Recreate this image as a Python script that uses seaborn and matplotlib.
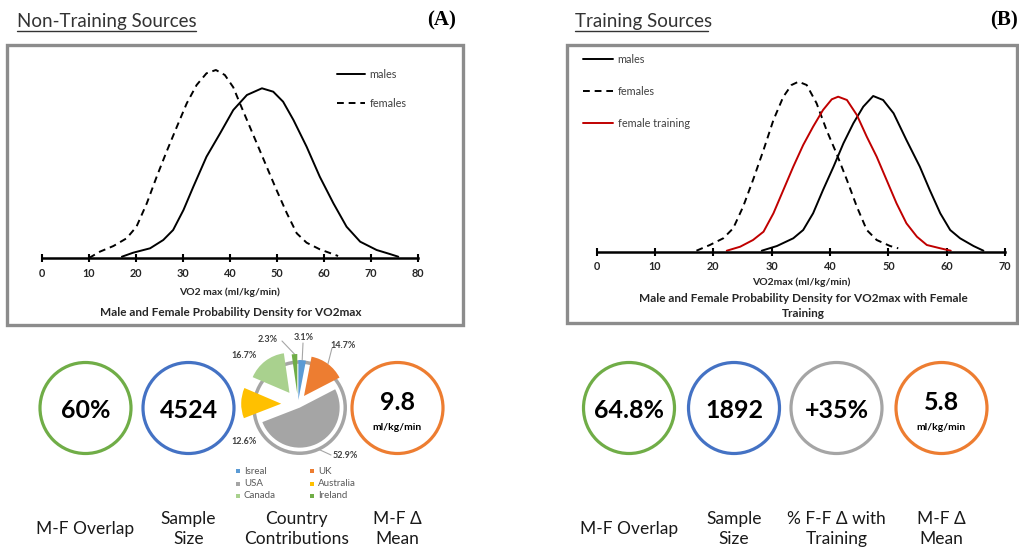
import numpy as np
import pandas as pd
import matplotlib
matplotlib.use("Agg")
import matplotlib.pyplot as plt
import seaborn as sns
from matplotlib.patches import Circle, Rectangle

# ---------------- data ----------------
# Panel A (non-training sources): relative probability density vs VO2max
a_male_x = [17.0, 19.4, 23.0, 25.8, 27.9, 30.1, 32.2, 35.0, 37.9, 40.7, 43.6, 46.8, 49.2,
            51.3, 53.5, 56.3, 59.1, 62.0, 64.8, 67.7, 71.2, 74.0, 75.8]
a_male_y = [1.3, 5.3, 9.7, 18.0, 28.0, 48.0, 71.3, 101.3, 124.7, 148.0, 163.0, 169.7, 166.3,
            156.3, 138.0, 111.3, 81.3, 54.7, 31.3, 16.3, 8.0, 4.0, 1.3]
a_female_x = [10.0, 12.3, 15.2, 18.0, 20.1, 22.3, 24.4, 26.5, 28.7, 30.8, 32.9, 35.0, 37.0,
              38.9, 40.7, 42.1, 43.9, 45.7, 47.8, 49.9, 52.1, 54.2, 56.3, 59.1, 63.0]
a_female_y = [0.0, 6.3, 12.0, 19.7, 31.3, 54.7, 81.3, 106.3, 131.3, 154.7, 173.0, 184.7, 188.0,
              183.0, 170.7, 154.7, 134.7, 114.7, 91.3, 68.0, 44.7, 24.7, 15.3, 8.7, 2.0]

# Panel B (training sources)
b_male_x = [28.3, 30.9, 33.7, 35.4, 37.1, 38.8, 40.6, 42.3, 44.0, 45.7, 47.4, 49.1, 50.9,
            53.1, 55.4, 57.1, 58.9, 60.6, 62.3, 64.6, 66.3]
b_male_y = [1.0, 5.7, 13.4, 21.7, 38.4, 61.7, 85.0, 108.4, 128.4, 145.0, 155.7, 151.7, 138.4,
            111.7, 85.0, 61.7, 38.4, 21.7, 13.4, 5.7, 1.0]
b_female_x = [17.1, 19.4, 21.7, 23.4, 25.1, 26.8, 28.6, 30.3, 32.0, 33.4, 34.6, 36.0, 37.7,
              39.4, 41.1, 42.9, 44.6, 46.3, 48.0, 50.3, 51.7]
b_female_y = [1.0, 6.7, 13.4, 23.4, 45.0, 71.7, 101.7, 131.7, 155.0, 166.7, 170.0, 166.7, 148.4,
              121.7, 98.4, 71.7, 45.0, 21.7, 11.7, 5.7, 3.4]
b_ftrain_x = [22.3, 24.6, 26.8, 28.6, 30.3, 32.0, 33.7, 35.4, 37.1, 38.8, 40.3, 41.4, 42.9,
              44.6, 46.3, 48.0, 49.7, 51.4, 53.1, 54.9, 56.6, 58.9, 60.7]
b_ftrain_y = [1.0, 5.0, 11.7, 20.0, 38.4, 61.7, 85.0, 106.7, 125.0, 141.7, 152.4, 155.0, 151.7,
              136.7, 115.0, 95.0, 71.7, 48.4, 28.4, 15.0, 6.7, 3.4, 1.0]

a_ticks = [0, 10, 20, 30, 40, 50, 60, 70, 80]
b_ticks = [0, 10, 20, 30, 40, 50, 60, 70]

# Country contributions (panel A pie)
countries = ["Isreal", "UK", "USA", "Australia", "Canada", "Ireland"]
country_pct = [3.1, 14.7, 52.9, 12.6, 16.7, 2.3]

# KPI circles
a_kpi_values = ["60%", "4524", None, "9.8"]
a_kpi_labels = ["M-F Overlap", "Sample\nSize", "Country\nContributions", "M-F \u0394\nMean"]
b_kpi_values = ["64.8%", "1892", "+35%", "5.8"]
b_kpi_labels = ["M-F Overlap", "Sample\nSize", "% F-F \u0394 with\nTraining", "M-F \u0394\nMean"]
unit_label = "ml/kg/min"

# ---------------- style ----------------
sns.set_theme(style="white")
plt.rcParams["font.family"] = ["Lato", "DejaVu Sans"]

W, H = 1019, 549
fig = plt.figure(figsize=(W / 100, H / 100), dpi=100)


def px_axes(x0, y0, x1, y1):
    return fig.add_axes([x0 / W, 1 - y1 / H, (x1 - x0) / W, (y1 - y0) / H])


bg = px_axes(0, 0, W, H)
bg.set_xlim(0, W)
bg.set_ylim(H, 0)
bg.axis("off")

TXT = "#262626"
GREEN, BLUE, ORANGE, GRAY = "#70AD47", "#4472C4", "#ED7D31", "#A5A5A5"
country_colors = ["#5B9BD5", "#ED7D31", "#A5A5A5", "#FFC000", "#A9D18E", "#70AD47"]

# headers
for x, t in [(17, "Non-Training Sources"), (575, "Training Sources")]:
    bg.text(x, 21, t, fontsize=13.5, color="#333333", ha="left", va="center")
for x, t in [(456, "(A)"), (1018, "(B)")]:
    bg.text(x, 20, t, fontsize=15, fontweight="bold", family="Liberation Serif",
            ha="right", va="center", color="black")
bg.plot([17, 196], [31, 31], color="#333333", lw=1.0)
bg.plot([575, 708], [31, 31], color="#333333", lw=1.0)

# boxes
bg.add_patch(Rectangle((7, 45), 456, 280, fill=False, ec="#8c8c8c", lw=2.4))
bg.add_patch(Rectangle((567, 45), 450, 278, fill=False, ec="#8c8c8c", lw=2.4))


def density_axes(box, xmax, ticks, frames, styles, colors, ymax):
    ax = px_axes(*box)
    df = pd.concat(frames, ignore_index=True)
    sns.lineplot(data=df, x="VO2max", y="density", hue="series", style="series",
                 palette=colors, dashes=styles, lw=1.4, sort=False, estimator=None,
                 ax=ax)
    ax.set_xlim(0, xmax)
    ax.set_ylim(0, ymax)
    ax.set_facecolor("none")
    for s in ["left", "top", "right"]:
        ax.spines[s].set_visible(False)
    ax.spines["bottom"].set_color("black")
    ax.spines["bottom"].set_linewidth(1.8)
    ax.set_xticks(ticks)
    ax.set_yticks([])
    ax.tick_params(axis="x", direction="inout", length=6, width=1.5, colors="black",
                   labelsize=7.8, pad=4, bottom=True)
    for lb in ax.get_xticklabels():
        lb.set_fontweight("bold")
        lb.set_color(TXT)
    ax.set_xlabel("")
    ax.set_ylabel("")
    return ax


def frame(xs, ys, name):
    return pd.DataFrame({"VO2max": xs, "density": ys, "series": name})


axA = density_axes((42, 60, 418, 258), 80, a_ticks,
                   [frame(a_male_x, a_male_y, "males"), frame(a_female_x, a_female_y, "females")],
                   {"males": "", "females": (3.5, 2.5)},
                   {"males": "black", "females": "black"}, 198)
h, l = axA.get_legend_handles_labels()
axA.legend(h, l, loc="upper left", bbox_to_anchor=(337 / W, 1 - 69 / H),
           bbox_transform=fig.transFigure, frameon=False, fontsize=7.8,
           handlelength=2.6, handletextpad=0.4, labelspacing=1.65, borderpad=0,
           borderaxespad=0, labelcolor="#404040")

axB = density_axes((596.7, 55, 1005, 251.7), 70, b_ticks,
                   [frame(b_male_x, b_male_y, "males"), frame(b_female_x, b_female_y, "females"),
                    frame(b_ftrain_x, b_ftrain_y, "female training")],
                   {"males": "", "females": (3.5, 2.5), "female training": ""},
                   {"males": "black", "females": "black", "female training": "#C00000"}, 196.7)
h, l = axB.get_legend_handles_labels()
axB.legend(h, l, loc="upper left", bbox_to_anchor=(583 / W, 1 - 54 / H),
           bbox_transform=fig.transFigure, frameon=False, fontsize=7.8,
           handlelength=2.8, handletextpad=0.4, labelspacing=1.95, borderpad=0,
           borderaxespad=0, labelcolor="#404040")

# axis labels / titles as text
bg.text(230, 292, "VO2 max (ml/kg/min)", fontsize=7.5, fontweight="bold", ha="center", va="center", color=TXT)
bg.text(230.5, 313, "Male and Female Probability Density for VO2max", fontsize=8.5,
        fontweight="bold", ha="center", va="center", color=TXT)
bg.text(801.5, 282, "VO2max (ml/kg/min)", fontsize=7.5, fontweight="bold", ha="center", va="center", color=TXT)
bg.text(803, 298, "Male and Female Probability Density for VO2max with Female", fontsize=8.5,
        fontweight="bold", ha="center", va="center", color=TXT)
bg.text(803, 313.5, "Training", fontsize=8.5, fontweight="bold", ha="center", va="center", color=TXT)

# KPI circles
a_centers = [85.5, 188.5, 296.7, 397.5]
b_centers = [629, 734, 836.5, 941.5]
a_cols = [GREEN, BLUE, None, ORANGE]
b_cols = [GREEN, BLUE, GRAY, ORANGE]
CY = 408
for centers, cols, vals in [(a_centers, a_cols, a_kpi_values), (b_centers, b_cols, b_kpi_values)]:
    for cx, col, val in zip(centers, cols, vals):
        if col is None:
            continue
        bg.add_patch(Circle((cx, CY), 45.5, fill=False, ec=col, lw=2.3))
        if val in ("9.8", "5.8"):
            bg.text(cx, CY - 5, val, fontsize=18, fontweight="bold", ha="center", va="center", color="black")
            bg.text(cx, CY + 20, unit_label, fontsize=7.5, fontweight="bold", ha="center", va="center", color="black")
        else:
            bg.text(cx, CY + 2, val, fontsize=18, fontweight="bold", ha="center", va="center", color="black")

# bottom labels
for centers, labels in [(a_centers, a_kpi_labels), (b_centers, b_kpi_labels)]:
    for cx, lab in zip(centers, labels):
        bg.text(cx, 529, lab, fontsize=12.5, ha="center", va="center", color="#1a1a1a",
                linespacing=1.27)

# ---- pie ----
PCX, PCY, R = 298, 404, 40
axP = px_axes(PCX - 1.6 * R, PCY - 1.6 * R, PCX + 1.6 * R, PCY + 1.6 * R)
explode = [0.1, 0.25, 0.1, 0.42, 0.35, 0.25]
wedges, _ = axP.pie(country_pct, colors=country_colors, startangle=90, counterclock=False,
                    explode=explode, radius=1, wedgeprops=dict(linewidth=0))
axP.set_xlim(-1.6, 1.6)
axP.set_ylim(-1.6, 1.6)
axP.set_aspect("equal")
usa = wedges[2]
RING = 1.14
axP.add_patch(Circle(usa.center, RING, fill=False, ec=GRAY, lw=2.5, zorder=0))


def to_px(pt):
    return bg.transData.inverted().transform(axP.transData.transform(pt))


label_pos = [(304, 337), (343, 345), (345, 455), (244, 442), (244, 355), (268, 340)]
leader_end = [(303, 343), (332, 348), (331, 455), None, None, (282, 341)]
for w, pct, pos, le in zip(wedges, country_pct, label_pos, leader_end):
    bg.text(pos[0], pos[1], f"{pct:.1f}%", fontsize=6.5, fontweight="bold", color="#404040",
            ha="center", va="center")
    if le is not None:
        th = np.deg2rad((w.theta1 + w.theta2) / 2)
        rr = RING if w is usa else w.r
        p = to_px((w.center[0] + rr * np.cos(th), w.center[1] + rr * np.sin(th)))
        bg.plot([le[0], p[0]], [le[1], p[1]], color="#a6a6a6", lw=0.8)

# pie legend
leg_pos = [(238, 471), (312, 471), (238, 483.5), (312, 483.5), (238, 496), (312, 496)]
for (x, y), name, col in zip(leg_pos, countries, country_colors):
    bg.add_patch(Rectangle((x - 2, y - 2), 4, 4, color=col, lw=0))
    bg.text(x + 6, y, name, fontsize=7, color="#595959", ha="left", va="center")

fig.savefig("out.png", dpi=100)
